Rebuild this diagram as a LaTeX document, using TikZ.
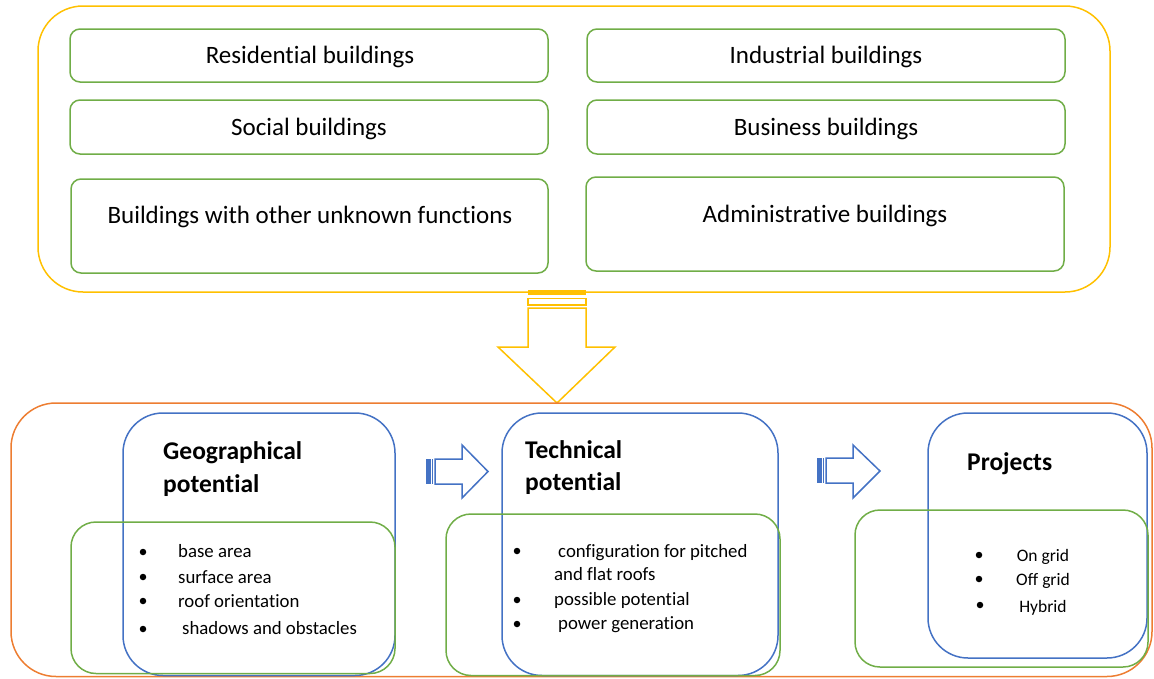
\documentclass[tikz,border=0pt]{standalone}
\usepackage{fontspec}
\setmainfont{Carlito}[Ligatures=NoCommon]
\definecolor{ygold}{HTML}{FFC000}
\definecolor{ogreen}{HTML}{70AD47}
\definecolor{oblue}{HTML}{4472C4}
\definecolor{oorange}{HTML}{ED7D31}
\begin{document}
\begin{tikzpicture}[x=1pt,y=-1pt,
  rbox/.style={draw, rectangle, rounded corners=#1, inner sep=0pt, outer sep=0pt, line width=1.5pt},
  gbox/.style={rbox=10pt, draw=ogreen},
  toptxt/.style={inner sep=0pt, anchor=base, font=\fontsize{25}{30}\selectfont},
  head/.style={inner sep=0pt, anchor=base west, font=\fontsize{25.5}{30}\selectfont\bfseries},
  bul/.style={circle, fill=black, inner sep=0pt, minimum size=6.5pt},
  itm/.style={inner sep=0pt, anchor=base west, font=\fontsize{18.8}{22}\selectfont},
  pitm/.style={inner sep=0pt, anchor=base, font=\fontsize{17.5}{22}\selectfont},
  blk/.style={line width=1.5pt, line join=miter}
]
\useasboundingbox (0,0) rectangle (1154,678);

% top container
\node[rbox=45pt, draw=ygold, minimum width=1072pt, minimum height=286pt] (top) at (574,149) {};
\node[gbox, minimum width=478pt, minimum height=53pt] (res) at (309,55.5) {};
\node[gbox, minimum width=478pt, minimum height=53pt] (ind) at (826,55.5) {};
\node[gbox, minimum width=478pt, minimum height=54pt] (soc) at (309,127) {};
\node[gbox, minimum width=478pt, minimum height=54pt] (bus) at (826,127) {};
\node[gbox, minimum width=477pt, minimum height=94pt] (oth) at (309.5,226) {};
\node[gbox, minimum width=478pt, minimum height=94pt] (adm) at (825,224) {};
\node[toptxt] (tres) at (310,63) {Residential buildings};
\node[toptxt] (tind) at (826,63) {Industrial buildings};
\node[toptxt] (tsoc) at (309,135) {Social buildings};
\node[toptxt] (tbus) at (826,135) {Business buildings};
\node[toptxt] (toth) at (310,223) {Buildings with other unknown functions};
\node[toptxt] (tadm) at (825,222) {Administrative buildings};

% down arrow
\fill[ygold] (528,290) rectangle (586,295);
\draw[ygold, line width=1.5pt] (528,298.5) rectangle (586,305);
\draw[ygold, blk] (528,308) -- (586,308) -- (586,347) -- (615,347) -- (557,403) -- (498,347) -- (528,347) -- cycle;

% bottom container
\node[rbox=45pt, draw=oorange, minimum width=1141pt, minimum height=273.5pt] (bot) at (581.5,539.75) {};

% column 1
\node[rbox=40pt, draw=oblue, minimum width=272pt, minimum height=262.5pt] (geob) at (259,544.25) {};
\node[rbox=25pt, draw=ogreen, minimum width=324pt, minimum height=151.5pt] (geog) at (233,597.75) {};
\node[head] (geoh1) at (163,459) {Geographical};
\node[head] (geoh2) at (163,492) {potential};
\node[bul] (g1b) at (143,552) {};
\node[itm] (g1) at (178,557) {base area};
\node[bul] (g2b) at (143,577) {};
\node[itm] (g2) at (178,583) {surface area};
\node[bul] (g3b) at (143,601) {};
\node[itm] (g3) at (178,607) {roof orientation};
\node[bul] (g4b) at (143,629) {};
\node[itm] (g4) at (182,634) {shadows and obstacles};

% column 2
\node[rbox=40pt, draw=oblue, minimum width=276pt, minimum height=262.5pt] (tecb) at (640,544.25) {};
\node[rbox=25pt, draw=ogreen, minimum width=334pt, minimum height=161.5pt] (tecg) at (613,594.75) {};
\node[head] (tech1) at (525,458) {Technical};
\node[head] (tech2) at (525,490) {potential};
\node[bul] (t1b) at (517,551) {};
\node[itm] (t1) at (558,557) {configuration for pitched};
\node[itm] (t1x) at (554,580) {and flat roofs};
\node[bul] (t2b) at (517,600) {};
\node[itm] (t2) at (554,605) {possible potential};
\node[bul] (t3b) at (517,624) {};
\node[itm] (t3) at (558,629) {power generation};

% column 3
\node[rbox=40pt, draw=oblue, minimum width=219pt, minimum height=245pt] (prob) at (1037.5,535.5) {};
\node[rbox=25pt, draw=ogreen, minimum width=293pt, minimum height=157pt] (prog) at (1001.5,588.5) {};
\node[head] (proh) at (967,470) {Projects};
\node[bul] (p1b) at (979,555) {};
\node[pitm] (p1) at (1043,561) {On grid};
\node[bul] (p2b) at (979,579) {};
\node[pitm] (p2) at (1043,585) {Off grid};
\node[bul] (p3b) at (980,605) {};
\node[pitm] (p3) at (1043,612) {Hybrid};

% blue striped arrows
\fill[oblue] (426,459) rectangle (430.5,484);
\draw[oblue, line width=1.2pt] (432.5,459) -- (432.5,484);
\draw[oblue, blk] (435,459) -- (462,459) -- (462,445) -- (488,471.5) -- (462,498) -- (462,484) -- (435,484) -- cycle;
\fill[oblue] (817,458) rectangle (821.5,483);
\draw[oblue, line width=1.2pt] (823.5,458) -- (823.5,483);
\draw[oblue, blk] (826,458) -- (853,458) -- (853,445) -- (880,471) -- (853,498) -- (853,483) -- (826,483) -- cycle;
\end{tikzpicture}
\end{document}
